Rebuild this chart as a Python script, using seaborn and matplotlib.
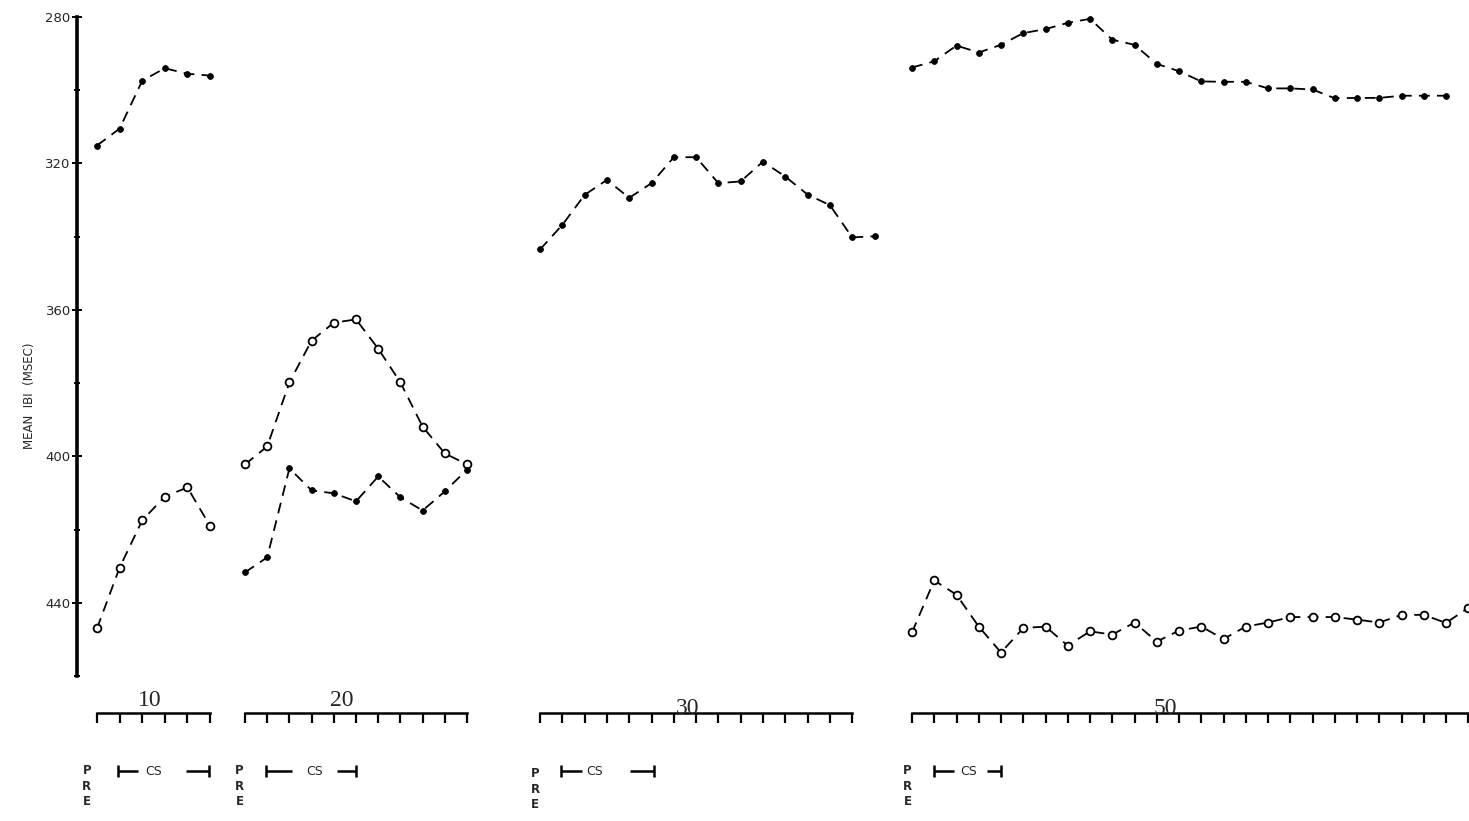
import numpy as np
import pandas as pd
import matplotlib
matplotlib.use("Agg")
import matplotlib.pyplot as plt
import seaborn as sns

# Mean inter-beat interval (msec) per trial block, one list per curve
panel_names = ["10", "20", "30", "50"]
p10_filled = [315.1, 310.5, 297.4, 294.0, 295.5, 296.0]
p10_open = [447.0, 430.4, 417.5, 411.0, 408.5, 419.0]
p20_open = [402.2, 397.3, 379.8, 368.4, 363.5, 362.6, 370.6, 379.8, 391.9, 399.2, 402.2]
p20_filled = [431.7, 427.6, 403.3, 409.3, 410.1, 412.3, 405.5, 411.2, 414.8, 409.6, 403.6]
p30_filled = [343.5, 336.8, 328.6, 324.5, 329.4, 325.4, 318.3, 318.3, 325.4, 324.9,
              319.5, 323.6, 328.5, 331.4, 340.2, 339.9]
p50_filled = [293.8, 292.1, 287.8, 289.7, 287.6, 284.4, 283.3, 281.6, 280.5, 286.2,
              287.6, 292.8, 294.8, 297.6, 297.7, 297.7, 299.5, 299.5, 299.8, 302.2,
              302.1, 302.1, 301.5, 301.5, 301.5]
p50_open = [448.1, 433.9, 437.8, 446.5, 453.6, 446.9, 446.5, 451.7, 447.8, 448.7,
            445.4, 450.6, 447.6, 446.5, 449.9, 446.5, 445.4, 443.9, 443.9, 443.9,
            444.6, 445.4, 443.3, 443.3, 445.5, 441.4]

y_major = [280, 320, 360, 400, 440]
y_minor = [300, 340, 380, 420, 460]
y_label = "MEAN  IBI  (MSEC)"

sns.set_style("white")
plt.rcParams["font.family"] = ["DejaVu Sans"]

W, H = 1469, 821
fig = plt.figure(figsize=(W / 100, H / 100), dpi=100)

y_top_px, y_bot_px = 17, 676          # pixel rows of 280 and 460 msec
scale_px = 713                          # pixel row of the trial scales
ax_b = 1 - y_bot_px / H
ax_h = (y_bot_px - y_top_px) / H
PT = 0.72                               # points per pixel at 100 dpi


def frac(ypx):
    """Pixel row -> axes fraction for the data axes."""
    return (y_bot_px - ypx) / (y_bot_px - y_top_px)


layout = [
    dict(x0=97, unit=22.6, nticks=6, series=[(p10_filled, "f"), (p10_open, "o")],
         num_x=2.35, num_dy=2, pre_x=-0.45, pre_y=764,
         cs=(0.93, 1.8, 2.5, 3.95, 4.95), cs_y=771),
    dict(x0=245, unit=22.2, nticks=11, series=[(p20_open, "o"), (p20_filled, "f")],
         num_x=4.37, num_dy=2, pre_x=-0.25, pre_y=764,
         cs=(0.95, 2.1, 3.15, 4.15, 5.0), cs_y=771),
    dict(x0=540, unit=22.3, nticks=15, series=[(p30_filled, "f")],
         num_x=6.64, num_dy=-6, pre_x=-0.22, pre_y=767,
         cs=(0.95, 1.9, 2.45, 4.05, 5.1), cs_y=771),
    dict(x0=912, unit=22.25, nticks=26, series=[(p50_filled, "f"), (p50_open, "o")],
         num_x=11.37, num_dy=-6, pre_x=-0.2, pre_y=764,
         cs=(1.0, 1.9, 2.55, 3.35, 4.0), cs_y=771),
]

for i, (name, spec) in enumerate(zip(panel_names, layout)):
    width = (spec["nticks"] - 1) * spec["unit"]
    ax = fig.add_axes([spec["x0"] / W, ax_b, width / W, ax_h])
    ax.set_xlim(0, spec["nticks"] - 1)
    ax.set_ylim(460, 280)
    ax.patch.set_alpha(0)

    for vals, kind in spec["series"]:
        df = pd.DataFrame({"trial": np.arange(len(vals)), "ibi": vals})
        if kind == "f":
            style = dict(markersize=4.2, markerfacecolor="black",
                         markeredgecolor="black", markeredgewidth=0.6)
        else:
            style = dict(markersize=5.6, markerfacecolor="white",
                         markeredgecolor="black", markeredgewidth=1.3)
        sns.lineplot(data=df, x="trial", y="ibi", ax=ax, color="black",
                     linewidth=1.3, linestyle=(0, (6, 4)), marker="o",
                     clip_on=False, **style)

    ax.set_xlabel("")
    ax.set_ylabel("")
    for s in ("top", "right"):
        ax.spines[s].set_visible(False)

    # trial scale beneath the panel
    ax.spines["bottom"].set_position(("outward", (scale_px - y_bot_px) * PT))
    ax.spines["bottom"].set_linewidth(1.8)
    ax.spines["bottom"].set_color("black")
    ax.set_xticks(range(spec["nticks"]))
    ax.tick_params(axis="x", bottom=True, direction="out", length=7, width=1.6,
                   color="black", labelbottom=False)

    if i == 0:
        ax.spines["left"].set_position(("outward", 20 * PT))
        ax.spines["left"].set_linewidth(2.6)
        ax.spines["left"].set_color("black")
        ax.spines["left"].set_bounds(280, 460)
        ax.set_yticks(y_major)
        ax.set_yticks(y_minor, minor=True)
        ax.tick_params(axis="y", which="major", left=True, direction="inout",
                       length=7, width=1.4, labelsize=9.5, color="black", pad=1)
        ax.tick_params(axis="y", which="minor", left=True, direction="inout",
                       length=5, width=1.4, color="black")
    else:
        ax.spines["left"].set_visible(False)
        ax.set_yticks([])

    tr = ax.get_xaxis_transform()
    # panel number above the scale
    ax.text(spec["num_x"], frac(scale_px - spec["num_dy"]), name, transform=tr,
            ha="center", va="bottom", fontsize=17, family="Liberation Serif",
            clip_on=False)
    # PRE, stacked vertically
    ax.text(spec["pre_x"], frac(spec["pre_y"]), "P\nR\nE", transform=tr,
            ha="center", va="top", fontsize=8.5, fontweight="bold",
            linespacing=1.25, clip_on=False)
    # CS interval bracket
    a, b, c, d, e = spec["cs"]
    fy = frac(spec["cs_y"])
    bar = 6 / (y_bot_px - y_top_px)
    kw = dict(color="black", lw=1.8, transform=tr, clip_on=False,
              solid_capstyle="butt")
    ax.plot([a, b], [fy, fy], **kw)
    ax.plot([d, e], [fy, fy], **kw)
    ax.plot([a, a], [fy - bar, fy + bar], **kw)
    ax.plot([e, e], [fy - bar, fy + bar], **kw)
    ax.text(c, fy, "CS", transform=tr, ha="center", va="center",
            fontsize=9, clip_on=False)

fig.text(30 / W, 1 - 396 / H, y_label, rotation=90, ha="center", va="center",
         fontsize=8.5)

fig.savefig("out.png", dpi=100)
